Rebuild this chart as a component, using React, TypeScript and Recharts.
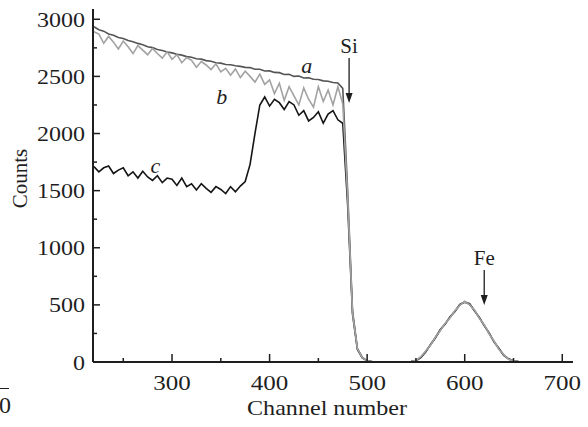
import { LineChart, Line, XAxis, YAxis, ReferenceLine, ReferenceDot } from 'recharts';

const channels = [
  220, 225, 230, 235, 240, 245, 250, 255, 260, 265, 270, 275, 280, 285, 290, 295, 300,
  305, 310, 315, 320, 325, 330, 335, 340, 345, 350, 355, 360, 365, 370, 375, 380, 385, 390, 395, 400,
  405, 410, 415, 420, 425, 430, 435, 440, 445, 450, 455, 460, 465, 470, 475, 480, 485, 490, 495, 500,
  505, 510, 515, 520, 525, 530, 535, 540, 545, 550, 555, 560, 565, 570, 575, 580, 585, 590, 595, 600,
  605, 610, 615, 620, 625, 630, 635, 640, 645, 650, 655, 660, 665, 670, 675, 680, 685, 690, 695, 700,
  705, 710,
];

// curve a: reference, smooth
const seriesA = [
  2935, 2908, 2896, 2872, 2861, 2841, 2832, 2814, 2803, 2789, 2777, 2760, 2752, 2735, 2727, 2713, 2706,
  2694, 2686, 2673, 2667, 2655, 2651, 2638, 2632, 2619, 2616, 2604, 2602, 2593, 2588, 2579, 2577, 2563, 2563, 2547, 2548,
  2535, 2533, 2517, 2518, 2500, 2503, 2486, 2488, 2475, 2473, 2461, 2458, 2447, 2442, 2395, 1500, 450, 120, 40, 12,
  4, 0, 2, 0, 0, 2, 0, 1, 3, 10, 42, 92, 150, 215, 280, 336, 392, 446, 500, 528,
  506, 452, 386, 322, 250, 180, 116, 62, 26, 9, 3, 0, 1, 0, 0, 2, 0, 0, 1, 0,
  0, 0,
];

// curve b: noisy, light grey
const seriesB = [
  2890, 2870, 2790, 2850, 2800, 2740, 2810, 2760, 2700, 2770, 2730, 2690, 2745, 2700, 2660, 2715, 2650,
  2690, 2620, 2665, 2640, 2580, 2630, 2600, 2560, 2610, 2540, 2570, 2510, 2565, 2490, 2545, 2500, 2450, 2520, 2430, 2470,
  2350, 2440, 2290, 2410, 2330, 2250, 2400, 2300, 2230, 2410, 2280, 2380, 2250, 2410, 2260, 1450, 430, 115, 38, 10,
  3, 1, 0, 2, 0, 0, 2, 0, 5, 14, 46, 96, 148, 220, 276, 340, 388, 450, 496, 532,
  500, 456, 382, 326, 246, 184, 112, 64, 24, 10, 2, 1, 0, 2, 0, 0, 1, 0, 0, 2,
  0, 0,
];

// curve c: black
const seriesC = [
  1710, 1665, 1700, 1715, 1650, 1680, 1700, 1630, 1665, 1610, 1670, 1620, 1590, 1630, 1570, 1610, 1600,
  1545, 1610, 1535, 1560, 1505, 1560, 1520, 1485, 1535, 1510, 1475, 1535, 1490, 1540, 1580, 1730, 2000, 2250, 2320, 2240,
  2300, 2270, 2210, 2280, 2250, 2160, 2200, 2110, 2140, 2190, 2090, 2170, 2200, 2120, 2090, 1380, 420, 110, 35, 10,
  2, 0, 1, 0, 2, 0, 0, 2, 4, 12, 38, 88, 154, 212, 284, 332, 396, 442, 504, 524,
  510, 448, 390, 318, 254, 176, 120, 58, 28, 8, 3, 0, 0, 1, 0, 0, 2, 0, 0, 1,
  0, 0,
];

const xTicks = [250, 300, 350, 400, 450, 500, 550, 600, 650, 700];
const yTicks = [0, 250, 500, 750, 1000, 1250, 1500, 1750, 2000, 2250, 2500, 2750, 3000];

const data = channels.map((ch, i) => ({ ch, a: seriesA[i], b: seriesB[i], c: seriesC[i] }));

const FONT = '"Liberation Serif", "Times New Roman", serif';
const INK = '#1e1e1e';

function XTick({ x, y, payload }: any) {
  const major = payload.value % 100 === 0;
  const s = String(payload.value);
  return (
    <g>
      <line x1={x} x2={x} y1={y} y2={y - (major ? 8 : 4)} stroke={INK} strokeWidth={1.5} />
      {major && (
        <text x={x} y={y + 28} textAnchor="middle" fontFamily={FONT} fontSize={22} fill={INK}
          textLength={s.length * 12.5} lengthAdjust="spacingAndGlyphs">
          {s}
        </text>
      )}
    </g>
  );
}

function YTick({ x, y, payload }: any) {
  const major = payload.value % 500 === 0;
  const s = String(payload.value);
  return (
    <g>
      <line x1={x} x2={x + (major ? 7 : 4)} y1={y} y2={y} stroke={INK} strokeWidth={1.5} />
      {major && (
        <text x={x - 8} y={y} textAnchor="end" dominantBaseline="central" fontFamily={FONT} fontSize={22} fill={INK}
          textLength={s.length * 12} lengthAdjust="spacingAndGlyphs">
          {s}
        </text>
      )}
    </g>
  );
}

const arrowShape = (label: string) => (p: any) => {
  const { x1, y1, x2, y2 } = p;
  return (
    <g>
      <line x1={x1} y1={y1} x2={x2} y2={y2 - 8} stroke={INK} strokeWidth={1.3} />
      <polygon points={`${x2 - 3.5},${y2 - 10} ${x2 + 3.5},${y2 - 10} ${x2},${y2}`} fill={INK} />
      <text x={x1} y={y1 - 5} textAnchor="middle" fontFamily={FONT} fontSize={21} fill={INK}>
        {label}
      </text>
    </g>
  );
};

const letterShape = (label: string) => (p: any) => (
  <text x={p.cx} y={p.cy} textAnchor="middle" dominantBaseline="central" fontFamily={FONT} fontStyle="italic" fontSize={22} fill={INK}>
    {label}
  </text>
);

export default function App() {
  return (
    <div style={{ position: 'absolute', left: 0, top: 0, width: 588, height: 427, background: '#fff', overflow: 'hidden' }}>
      <LineChart width={588} height={427} data={data} margin={{ top: 9, right: 15, left: 0, bottom: 0 }}>
        <XAxis
          dataKey="ch"
          type="number"
          domain={[219, 711]}
          ticks={xTicks}
          height={65}
          tick={<XTick />}
          tickLine={false}
          tickSize={0}
          tickMargin={0}
          axisLine={{ stroke: INK, strokeWidth: 2 }}
          interval={0}
          label={(props: any) => {
            const vb = props.viewBox;
            return (
              <text x={vb.x + vb.width / 2 - 6} y={vb.y + 53} textAnchor="middle" fontFamily={FONT} fontSize={22} fill={INK}
                textLength={160} lengthAdjust="spacingAndGlyphs">
                Channel number
              </text>
            );
          }}
        />
        <YAxis
          type="number"
          domain={[0, 3090]}
          ticks={yTicks}
          width={93}
          tick={<YTick />}
          tickLine={false}
          tickSize={0}
          tickMargin={0}
          axisLine={{ stroke: INK, strokeWidth: 2 }}
          interval={0}
          label={(props: any) => {
            const vb = props.viewBox;
            const cy = vb.y + vb.height / 2 - 7;
            return (
              <text x={20} y={cy} transform={`rotate(-90 20 ${cy})`} textAnchor="middle" dominantBaseline="central" fontFamily={FONT} fontSize={21} fill={INK}>
                Counts
              </text>
            );
          }}
        />
        <Line type="linear" dataKey="c" stroke="#151515" strokeWidth={1.6} dot={false} isAnimationActive={false} />
        <Line type="linear" dataKey="a" stroke="#555555" strokeWidth={1.6} dot={false} isAnimationActive={false} />
        <Line type="linear" dataKey="b" stroke="#a2a2a2" strokeWidth={1.6} dot={false} isAnimationActive={false} />
        <ReferenceLine segment={[{ x: 481.5, y: 2661 }, { x: 481.5, y: 2267 }]} shape={arrowShape('Si')} />
        <ReferenceLine segment={[{ x: 620, y: 805 }, { x: 620, y: 499 }]} shape={arrowShape('Fe')} />
        <ReferenceDot x={438} y={2595} r={0} shape={letterShape('a')} />
        <ReferenceDot x={351} y={2320} r={0} shape={letterShape('b')} />
        <ReferenceDot x={283} y={1720} r={0} shape={letterShape('c')} />
      </LineChart>
      <div style={{ position: 'absolute', left: 0, top: 388, width: 9, borderTop: `1.5px solid ${INK}` }} />
      <div style={{ position: 'absolute', left: -1, top: 393, fontFamily: FONT, fontSize: 24, lineHeight: '24px', color: INK }}>0</div>
    </div>
  );
}
